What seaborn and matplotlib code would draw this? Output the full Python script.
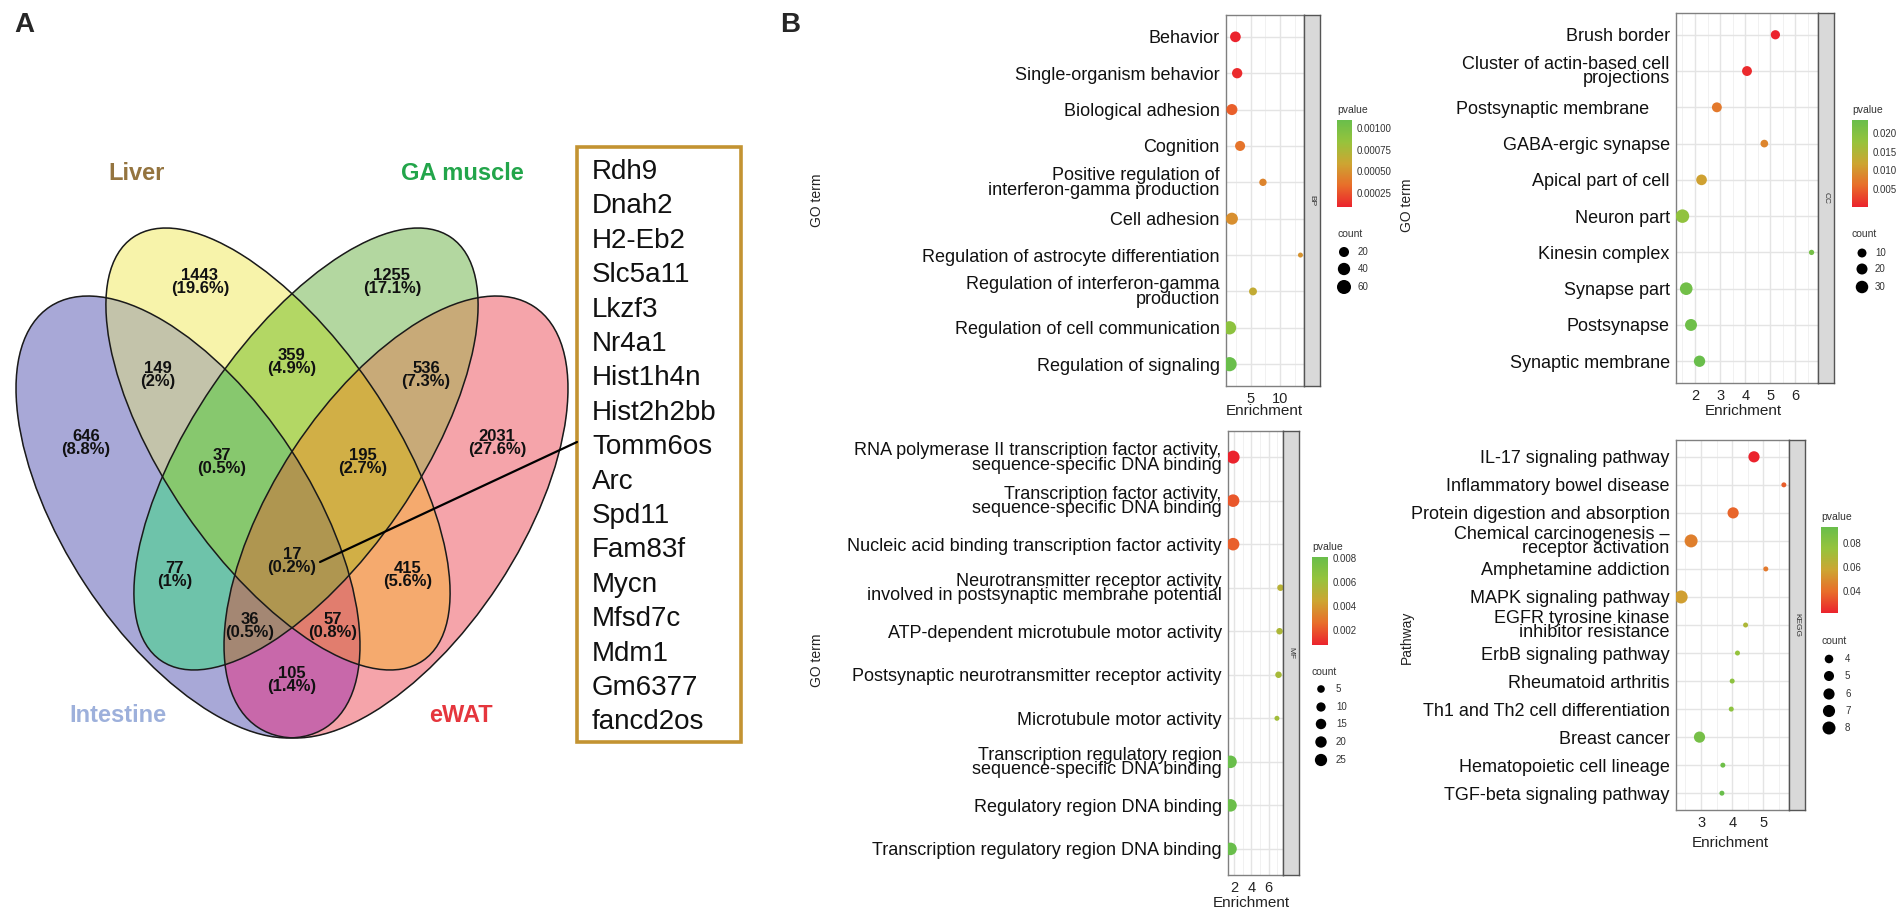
import numpy as np
import pandas as pd
import matplotlib
matplotlib.use("Agg")
import matplotlib.pyplot as plt
import seaborn as sns
from matplotlib.patches import Ellipse, Rectangle
from matplotlib.colors import LinearSegmentedColormap, Normalize, to_rgba
from matplotlib.cm import ScalarMappable

W, H = 1902, 916

# ---------------- data ----------------
venn_names = ["Intestine", "Liver", "GA muscle", "eWAT"]
venn_name_colors = ["#9DB0DB", "#94743F", "#22A54A", "#E5363D"]
venn_region_counts = [1443, 1255, 149, 359, 536, 646, 2031, 37, 195, 17, 77, 415, 36, 57, 105]
venn_region_pcts = ["19.6%", "17.1%", "2%", "4.9%", "7.3%", "8.8%", "27.6%",
                    "0.5%", "2.7%", "0.2%", "1%", "5.6%", "0.5%", "0.8%", "1.4%"]
common_genes = ["Rdh9", "Dnah2", "H2-Eb2", "Slc5a11", "Lkzf3", "Nr4a1", "Hist1h4n",
                "Hist2h2bb", "Tomm6os", "Arc", "Spd11", "Fam83f", "Mycn", "Mfsd7c",
                "Mdm1", "Gm6377", "fancd2os"]

bp_terms = ["Behavior", "Single-organism behavior", "Biological adhesion", "Cognition",
            "Positive regulation of\ninterferon-gamma production", "Cell adhesion",
            "Regulation of astrocyte differentiation",
            "Regulation of interferon-gamma\nproduction",
            "Regulation of cell communication", "Regulation of signaling"]
bp_enrich = [2.4, 2.7, 1.8, 3.2, 7.1, 1.8, 13.5, 5.4, 1.4, 1.4]
bp_pvalue = [0.00009, 0.00012, 0.00029, 0.00037, 0.00044, 0.00049, 0.00051, 0.00064, 0.00089, 0.00109]
bp_count = [25, 22, 28, 20, 6, 37, 2, 8, 51, 62]

cc_terms = ["Brush border", "Cluster of actin-based cell\nprojections", "Postsynaptic membrane",
            "GABA-ergic synapse", "Apical part of cell", "Neuron part", "Kinesin complex",
            "Synapse part", "Postsynapse", "Synaptic membrane"]
cc_enrich = [5.2, 4.07, 2.87, 4.76, 2.26, 1.5, 6.64, 1.65, 1.84, 2.18]
cc_pvalue = [0.0002, 0.0008, 0.0072, 0.0084, 0.0114, 0.0184, 0.0219, 0.0223, 0.0228, 0.0235]
cc_count = [11, 14, 14, 6, 18, 38, 3, 31, 26, 22]

mf_terms = ["RNA polymerase II transcription factor activity,\nsequence-specific DNA binding",
            "Transcription factor activity,\nsequence-specific DNA binding",
            "Nucleic acid binding transcription factor activity",
            "Neurotransmitter receptor activity\ninvolved in postsynaptic membrane potential",
            "ATP-dependent microtubule motor activity",
            "Postsynaptic neurotransmitter receptor activity",
            "Microtubule motor activity",
            "Transcription regulatory region\nsequence-specific DNA binding",
            "Regulatory region DNA binding",
            "Transcription regulatory region DNA binding"]
mf_enrich = [1.9, 1.9, 1.9, 7.38, 7.27, 7.15, 6.97, 1.6, 1.6, 1.6]
mf_pvalue = [0.0007, 0.0020, 0.0022, 0.0051, 0.0055, 0.0057, 0.0059, 0.0081, 0.0080, 0.0081]
mf_count = [30, 27, 27, 3, 3, 3, 2, 27, 27, 27]

kegg_terms = ["IL-17 signaling pathway", "Inflammatory bowel disease",
              "Protein digestion and absorption",
              "Chemical carcinogenesis \u2013\nreceptor activation",
              "Amphetamine addiction", "MAPK signaling pathway",
              "EGFR tyrosine kinase\ninhibitor resistance", "ErbB signaling pathway",
              "Rheumatoid arthritis", "Th1 and Th2 cell differentiation", "Breast cancer",
              "Hematopoietic cell lineage", "TGF-beta signaling pathway"]
kegg_enrich = [4.70, 5.66, 4.03, 2.68, 5.08, 2.36, 4.43, 4.17, 4.0, 3.97, 2.95, 3.70, 3.67]
kegg_pvalue = [0.022, 0.036, 0.0376, 0.0454, 0.0433, 0.0554, 0.068, 0.0753, 0.0788, 0.0788,
               0.088, 0.0909, 0.093]
kegg_count = [6, 3, 6, 8, 3, 8, 3, 3, 3, 3, 6, 3, 3]

# ---------------- style ----------------
sns.set_theme(style="white")
plt.rcParams["font.family"] = ["Liberation Sans", "DejaVu Sans"]
narrow = ["Liberation Sans Narrow", "Liberation Sans", "DejaVu Sans"]

pcmap = LinearSegmentedColormap.from_list(
    "pv", ["#EB232D", "#E86E2A", "#CDA532", "#96C33C", "#69BE4B"])

# Venn region fill colours keyed by membership (Intestine, Liver, GA muscle, eWAT)
venn_region_colors = [
    ((1, 0, 0, 0), "#A8A8D7"), ((0, 1, 0, 0), "#F7F3AA"), ((0, 0, 1, 0), "#B4D7A0"),
    ((0, 0, 0, 1), "#F5A5AA"), ((1, 1, 0, 0), "#C3C3AA"), ((0, 1, 1, 0), "#B4D764"),
    ((0, 0, 1, 1), "#C8AA78"), ((1, 1, 1, 0), "#87C86E"), ((0, 1, 1, 1), "#D2AF46"),
    ((1, 0, 1, 0), "#6EC3AA"), ((0, 1, 0, 1), "#F5AA6E"), ((1, 1, 1, 1), "#AF9650"),
    ((1, 0, 1, 1), "#A58773"), ((1, 1, 0, 1), "#E17D6E"), ((1, 0, 0, 1), "#C869AA"),
]

fig = plt.figure(figsize=(W / 100, H / 100), dpi=100)


def px2fig(l, t, r, b):
    return [l / W, 1 - b / H, (r - l) / W, (b - t) / H]


ov = fig.add_axes([0, 0, 1, 1])

# ---------------- panel A: Venn ----------------
X0 = 292
venn_geo = [((188, 517), 251.6, 122.9, 56.77),
            ((278, 449), 256.5, 112.5, 55.6),
            ((2 * X0 - 278, 449), 256.5, 112.5, -55.6),
            ((2 * X0 - 188, 517), 251.6, 122.9, -56.77)]

step = 0.5
xs = np.arange(0, 600, step) + step / 2
ys = np.arange(200, 760, step) + step / 2
XX, YY = np.meshgrid(xs, ys)
inside = []
for (cx, cy), a, b, th in venn_geo:
    t = np.deg2rad(th)
    u = (XX - cx) * np.cos(t) + (YY - cy) * np.sin(t)
    v = -(XX - cx) * np.sin(t) + (YY - cy) * np.cos(t)
    inside.append((u / a) ** 2 + (v / b) ** 2 <= 1)
img = np.zeros(XX.shape + (4,))
for key, col in venn_region_colors:
    m = np.ones(XX.shape, bool)
    for k, ins in zip(key, inside):
        m &= ins if k else ~ins
    img[m] = to_rgba(col)
ov.imshow(img, extent=(0, 600, 760, 200), origin="upper", interpolation="antialiased",
          aspect="auto", zorder=1)
for (c, a, b, th) in venn_geo:
    ov.add_patch(Ellipse(c, 2 * a, 2 * b, angle=th, fill=False, edgecolor="#1A1A1A",
                         lw=1.1, zorder=2))
ov.set_xlim(0, W)
ov.set_ylim(H, 0)
ov.axis("off")

venn_label_xy = [(200, 282), (392, 282), (158, 375), (292, 362), (426, 375), (86, 443),
                 (497, 443), (222, 462), (363, 462), (292, 561), (175, 575), (408, 575),
                 (250, 626), (333, 626), (292, 680)]
for (x, y), n, p in zip(venn_label_xy, venn_region_counts, venn_region_pcts):
    ov.text(x, y, f"{n}\n({p})", ha="center", va="center", fontsize=12, fontweight="bold",
            family=narrow, linespacing=0.85, color="#111111", zorder=3)

venn_name_xy = [(118, 715), (137, 173), (462, 173), (461, 715)]
for (x, y), nm, col in zip(venn_name_xy, venn_names, venn_name_colors):
    ov.text(x, y, nm, ha="center", va="center", fontsize=17, fontweight="bold", color=col)

ov.add_patch(Rectangle((577, 147), 164, 595, fill=False, edgecolor="#C39332", lw=2.6, zorder=3))
for i, g in enumerate(common_genes):
    ov.text(592, 172 + i * 34.4, g, ha="left", va="center", fontsize=20, color="#111111")
ov.plot([320, 577], [562, 442], color="black", lw=1.6, zorder=4)

ov.text(24, 25, "A", fontsize=20, fontweight="bold", ha="center", va="center")
ov.text(790, 25, "B", fontsize=20, fontweight="bold", ha="center", va="center")


# ---------------- panel B: dot plots ----------------
def gg_size(c, cmin, cmax, d0, d1):
    r = (c - cmin) / (cmax - cmin)
    d = d0 + (d1 - d0) * np.sqrt(np.clip(r, 0, 1))
    return (d * 0.72) ** 2


def dotplot(terms, enrich, pval, count, panel, strip_txt, xticks, xminor, size_par,
            cbar_box, cbar_ticks, cbar_labels, size_breaks, leg, ylab, ylab_xy, xlab_xy,
            extra_pad=None):
    l, t, r, b = panel
    ax = fig.add_axes(px2fig(l, t, r, b))
    df = pd.DataFrame({"term": terms, "Enrichment": enrich, "pvalue": pval, "count": count})
    df["pos"] = np.arange(len(df))
    norm = Normalize(vmin=min(pval), vmax=max(pval))
    cmin, cmax, d0, d1 = size_par
    size_map = {c: gg_size(c, cmin, cmax, d0, d1) for c in sorted(set(count))}
    sns.scatterplot(data=df, x="Enrichment", y="pos", hue="pvalue", hue_norm=norm,
                    palette=pcmap, size="count", sizes=size_map, legend=False, ax=ax,
                    linewidth=0, edgecolor="none", zorder=3)
    n = len(df)
    ax.set_ylim(n - 1 + 0.6, -0.6)
    lo, hi = min(enrich), max(enrich)
    ax.set_xlim(lo - 0.05 * (hi - lo), hi + 0.05 * (hi - lo))
    ax.set_yticks(df["pos"])
    ax.set_yticklabels(terms, fontsize=13, linespacing=0.8, color="#111111")
    ax.set_xticks(xticks)
    ax.set_xticklabels([str(v) for v in xticks], fontsize=10.5, color="#222222")
    ax.set_xticks(xminor, minor=True)
    ax.set_axisbelow(True)
    ax.grid(True, which="major", color="#E4E4E4", lw=1.0)
    ax.grid(True, which="minor", axis="x", color="#EFEFEF", lw=0.6)
    ax.tick_params(which="major", length=3, width=0.8, color="#444444", pad=1.5)
    ax.tick_params(which="minor", length=0)
    ax.set_xlabel("")
    ax.set_ylabel("")
    for sp in ax.spines.values():
        sp.set_color("#808080")
        sp.set_linewidth(1.0)
    if extra_pad:
        ticks = ax.yaxis.get_major_ticks()
        for idx, pd_ in extra_pad.items():
            ticks[idx].set_pad(1.5 + pd_)
    # facet strip
    sax = fig.add_axes(px2fig(r, t, r + 16, b))
    sax.set_facecolor("#D9D9D9")
    sax.set_xticks([])
    sax.set_yticks([])
    for sp in sax.spines.values():
        sp.set_color("#555555")
        sp.set_linewidth(1.0)
    sax.text(0.5, 0.5, strip_txt, rotation=-90, ha="center", va="center", fontsize=6,
             color="#333333", transform=sax.transAxes)
    # colour bar
    cax = fig.add_axes(px2fig(*cbar_box))
    cb = fig.colorbar(ScalarMappable(norm=norm, cmap=pcmap), cax=cax)
    cb.outline.set_visible(False)
    cb.set_ticks(cbar_ticks)
    cb.set_ticklabels(cbar_labels)
    cax.tick_params(length=3, width=0.8, color="white", direction="in", labelsize=7,
                    pad=3, labelcolor="#333333")
    cl, ct = cbar_box[0], cbar_box[1]
    ov.text(cl, ct - 10, "pvalue", fontsize=7.5, ha="left", va="center", color="#333333")
    # size legend
    ctitle_y, dot_x, lab_x, dot_ys = leg
    ov.text(cl, ctitle_y, "count", fontsize=7.5, ha="left", va="center", color="#333333")
    for bk, yy in zip(size_breaks, dot_ys):
        ov.scatter([dot_x], [yy], s=gg_size(bk, cmin, cmax, d0, d1), color="black",
                   edgecolor="none", zorder=5)
        ov.text(lab_x, yy, str(bk), fontsize=7, ha="left", va="center", color="#333333")
    # axis titles
    ov.text(ylab_xy[0], ylab_xy[1], ylab, rotation=90, fontsize=10, ha="center",
            va="center", color="#222222")
    ov.text(xlab_xy[0], xlab_xy[1], "Enrichment", fontsize=11, ha="center",
            va="center", color="#222222")
    return ax


dotplot(bp_terms, bp_enrich, bp_pvalue, bp_count, (1226, 15, 1304, 386), "BP",
        [5, 10], [2.5, 7.5, 12.5], (2, 62, 5.0, 14.2),
        (1337, 120, 1352, 207), [0.00025, 0.0005, 0.00075, 0.001],
        ["0.00025", "0.00050", "0.00075", "0.00100"], [20, 40, 60],
        (234, 1344, 1358, [252, 269, 287]), "GO term", (817, 200), (1264, 411))

dotplot(cc_terms, cc_enrich, cc_pvalue, cc_count, (1676, 13, 1818, 383), "CC",
        [2, 3, 4, 5, 6], [1.5, 2.5, 3.5, 4.5, 5.5, 6.5], (3, 38, 5.3, 13.5),
        (1852, 120, 1868, 207), [0.005, 0.010, 0.015, 0.020],
        ["0.005", "0.010", "0.015", "0.020"], [10, 20, 30],
        (234, 1862, 1875, [253, 269, 287]), "GO term", (1407, 205), (1743, 411),
        extra_pad={2: 14.5})

dotplot(mf_terms, mf_enrich, mf_pvalue, mf_count, (1228, 431, 1283, 875), "MF",
        [2, 4, 6], [3, 5, 7], (2, 30, 5.0, 13.0),
        (1312, 557, 1328, 645), [0.002, 0.004, 0.006, 0.008],
        ["0.002", "0.004", "0.006", "0.008"], [5, 10, 15, 20, 25],
        (672, 1321, 1336, [689, 707, 724, 742, 760]), "GO term", (817, 660), (1251, 903))

dotplot(kegg_terms, kegg_enrich, kegg_pvalue, kegg_count, (1676, 440, 1789, 810), "KEGG",
        [3, 4, 5], [2.5, 3.5, 4.5, 5.5], (3, 8, 5.0, 13.0),
        (1821, 527, 1838, 613), [0.04, 0.06, 0.08],
        ["0.04", "0.06", "0.08"], [4, 5, 6, 7, 8],
        (641, 1829, 1845, [659, 676, 694, 711, 728]), "Pathway", (1407, 637), (1730, 843))

fig.savefig("out.png", dpi=100)
